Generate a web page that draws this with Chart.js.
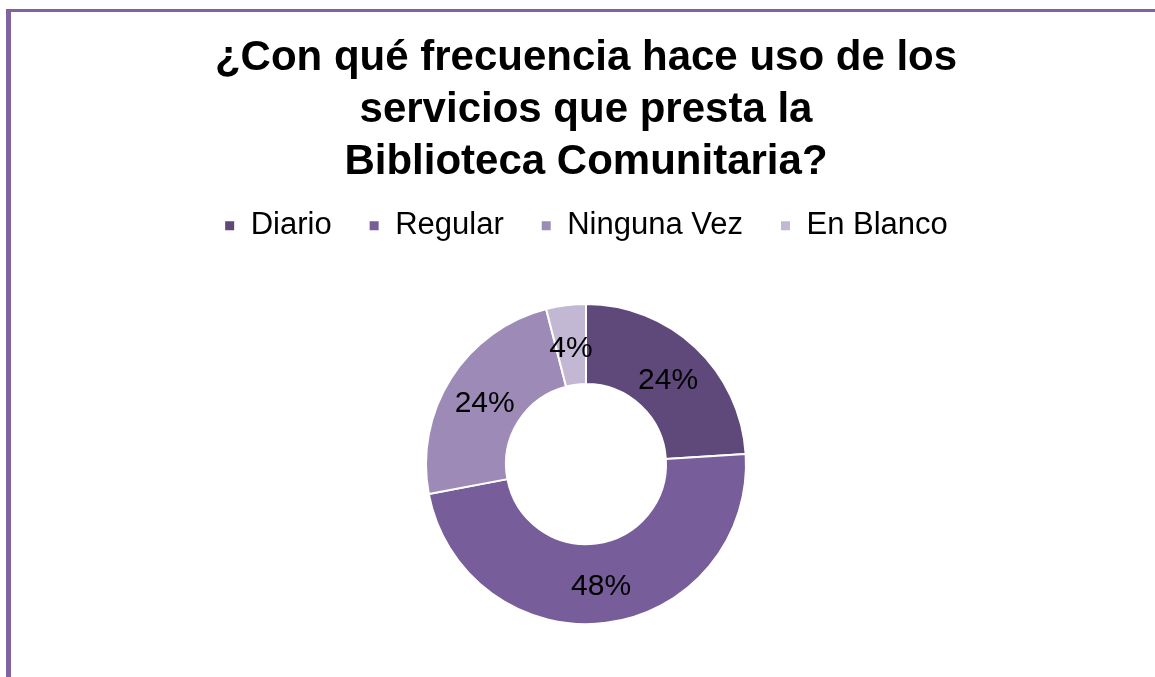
<!DOCTYPE html>
<html>
<head>
<meta charset="utf-8">
<script src="https://cdn.jsdelivr.net/npm/chart.js@4"></script>
<style>
  body { margin: 0; background: #fff; }
  #frame {
    position: absolute; left: 6px; top: 9px; width: 1149px; height: 668px;
    border-left: 5px solid #8064A2; border-top: 3px solid #8064A2;
  }
  #wrap { position: absolute; left: 0; top: 0; width: 1144px; height: 665px; }
</style>
</head>
<body>
<div id="frame"><div id="wrap"><canvas id="myChart"></canvas></div></div>
<script>
let categories = ["Diario", "Regular", "Ninguna Vez", "En Blanco"];
let respuestas = [6, 12, 6, 1];
let colores = ["#5F497A", "#775D99", "#9D8AB7", "#C3B8D4"];
let titulo = ["¿Con qué frecuencia hace uso de los", "servicios que presta la", "Biblioteca Comunitaria?"];

Chart.defaults.font.family = "'Liberation Sans', Arial, sans-serif";
Chart.defaults.color = "#000";

// porcentajes dentro de cada porción
let percentLabels = {
  id: "percentLabels",
  afterDatasetsDraw(chart) {
    let ctx = chart.ctx;
    let meta = chart.getDatasetMeta(0);
    let total = respuestas.reduce((a, b) => a + b, 0);
    ctx.save();
    ctx.font = "30px 'Liberation Sans', Arial, sans-serif";
    ctx.fillStyle = "#000";
    ctx.textAlign = "center";
    ctx.textBaseline = "middle";
    meta.data.forEach((arc, i) => {
      let p = arc.tooltipPosition();
      let txt = Math.round(respuestas[i] / total * 100) + "%";
      ctx.fillText(txt, p.x, p.y + 4);
    });
    ctx.restore();
  },
};

let myChart = document.getElementById("myChart").getContext("2d");
let massPopChart = new Chart(myChart, {
  type: "doughnut",
  data: {
    labels: categories,
    datasets: [
      {
        data: respuestas,
        backgroundColor: colores,
        borderColor: "#fff",
        borderWidth: 2,
      },
    ],
  },
  plugins: [percentLabels],
  options: {
    responsive: true,
    maintainAspectRatio: false,
    animation: false,
    cutout: "50%",
    radius: 160,
    layout: { padding: { left: 6, right: 0, top: 0, bottom: 0 } },
    plugins: {
      tooltip: { enabled: false },
      title: {
        display: true,
        text: titulo,
        font: { size: 42, weight: "bold", lineHeight: 1.24 },
        color: "#000",
        padding: { top: 20, bottom: -15 },
      },
      legend: {
        position: "top",
        labels: {
          boxWidth: 11,
          boxHeight: 11,
          padding: 37,
          font: { size: 31 },
          color: "#000",
        },
      },
    },
  },
});
</script>
</body>
</html>
